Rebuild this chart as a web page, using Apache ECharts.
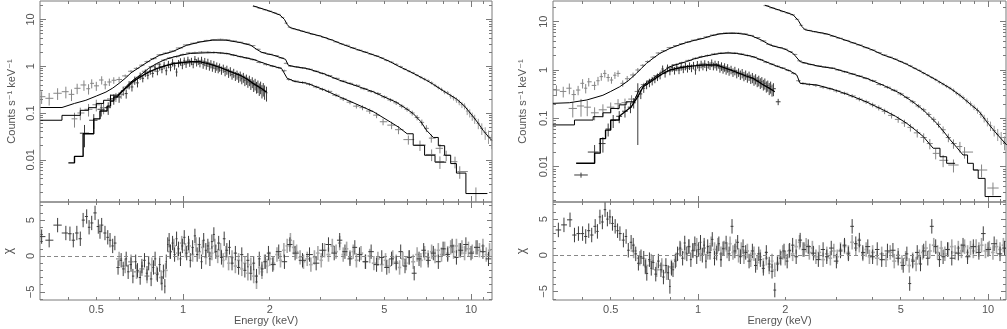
<!DOCTYPE html>
<html>
<head>
<meta charset="utf-8">
<script src="https://cdn.jsdelivr.net/npm/echarts@6/dist/echarts.min.js"></script>
<style>
  html, body { margin: 0; padding: 0; background: #fff; }
  #chart { width: 1007px; height: 329px; }
</style>
</head>
<body>
<div id="chart"></div>
<script>
// tick labels
const energyLabels = [0.5, 1, 2, 5, 10];
const energyMajor = [1, 10];
const energyMinor = [0.4, 0.5, 0.6, 0.7, 0.8, 0.9, 2, 3, 4, 5, 6, 7, 8, 9, 11];
const countLabels = [0.01, 0.1, 1, 10];
const chiLabels = [-5, 0, 5];
const chiMinor = [-6, -4, -3, -2, -1, 1, 2, 3, 4, 6, 7];

// ---- left panel: model outlines [E keV, counts/s/keV]
const leftModelTop = [[1.75,19.5],[1.85,17.5],[1.95,15.8],[2.05,14.2],[2.17,12.4],[2.25,10],[2.30,7.8],[2.35,6.7],[2.5,6.0],[2.7,5.2],[3.0,4.4],[3.3,3.6],[3.6,2.9],[4.0,2.3],[4.4,1.9],[4.8,1.58],[5.25,1.24],[5.6,1.0],[6.0,0.82],[6.5,0.64],[7.0,0.50],[7.4,0.41],[7.8,0.33],[8.3,0.26],[8.9,0.20],[9.5,0.14],[10.2,0.082],[10.6,0.06],[11.0,0.043],[11.5,0.031],[11.8,0.026]];
const leftModel2 = [[0.32,0.131],[0.38,0.131],[0.38,0.14],[0.42,0.16],[0.46,0.187],[0.50,0.23],[0.54,0.28],[0.57,0.34],[0.60,0.43],[0.63,0.55],[0.66,0.72],[0.71,0.97],[0.77,1.34],[0.83,1.72],[0.92,2.05],[1.03,2.8],[1.15,3.3],[1.27,3.6],[1.41,3.6],[1.58,3.2],[1.72,2.8],[1.8,2.3],[1.87,2.0],[1.95,1.85],[2.06,1.72],[2.2,1.5],[2.27,1.4],[2.32,1.05],[2.45,0.97],[2.7,0.89],[3.1,0.68],[3.5,0.50],[4.0,0.38],[4.6,0.28],[5.0,0.22],[5.5,0.17],[6.0,0.12],[6.3,0.097],[6.7,0.065],[7.0,0.043],[7.4,0.030],[7.7,0.03],[7.7,0.02],[8.1,0.02],[8.1,0.0125],[8.5,0.0125],[8.5,0.0083],[8.9,0.0083],[8.9,0.0052],[9.6,0.0052],[9.6,0.0019],[11.4,0.0019]];
const leftModel3 = [[0.32,0.07],[0.38,0.07],[0.38,0.089],[0.44,0.089],[0.44,0.114],[0.47,0.114],[0.47,0.13],[0.50,0.13],[0.50,0.16],[0.53,0.16],[0.53,0.187],[0.56,0.187],[0.56,0.24],[0.59,0.24],[0.61,0.27],[0.64,0.39],[0.67,0.5],[0.71,0.64],[0.76,0.9],[0.81,1.14],[0.87,1.4],[0.93,1.58],[1.0,1.75],[1.06,1.87],[1.2,1.93],[1.3,1.95],[1.42,1.87],[1.58,1.6],[1.75,1.4],[1.85,1.24],[2.0,1.05],[2.2,0.89],[2.3,0.55],[2.45,0.47],[2.7,0.43],[3.1,0.31],[3.5,0.22],[4.0,0.155],[4.6,0.105],[5.25,0.064],[5.6,0.05],[6.0,0.036],[6.3,0.036],[6.3,0.0204],[6.9,0.0204],[6.9,0.0125],[7.5,0.0125],[7.5,0.0089],[8.2,0.0089]];
const leftModel4 = [[0.40,0.0086],[0.42,0.0086],[0.42,0.0118],[0.45,0.0118],[0.45,0.036],[0.49,0.036],[0.49,0.075],[0.515,0.075],[0.515,0.11],[0.545,0.11],[0.545,0.14],[0.56,0.14],[0.56,0.18],[0.575,0.18],[0.575,0.22],[0.59,0.22],[0.61,0.28],[0.64,0.36],[0.67,0.47],[0.71,0.59],[0.76,0.75],[0.81,0.89],[0.87,1.02],[0.93,1.14],[1.0,1.2],[1.06,1.24],[1.15,1.24],[1.21,1.15],[1.27,1.05],[1.35,0.93],[1.42,0.82],[1.5,0.72],[1.58,0.64],[1.67,0.53],[1.75,0.43],[1.85,0.35],[1.95,0.28]];

// ---- left panel: data [E keV, counts, fractional error]
const leftDataTop = [[1.78,18.8,.03],[1.85,17.2,.03],[1.93,16,.03],[2.0,15,.03],[2.08,13.8,.03],[2.15,12.8,.03],[2.22,11,.03],[2.28,8.3,.03],[2.34,6.8,.03],[2.42,6.3,.03],[2.5,6.0,.03],[2.6,5.6,.03],[2.7,5.3,.03],[2.82,4.8,.03],[2.95,4.5,.03],[3.1,4.1,.03],[3.25,3.7,.03],[3.4,3.3,.03],[3.55,3.0,.03],[3.7,2.8,.04],[3.9,2.45,.04],[4.1,2.2,.04],[4.3,2.0,.04],[4.5,1.8,.04],[4.7,1.66,.04],[4.9,1.5,.04],[5.1,1.33,.05],[5.3,1.22,.05],[5.5,1.1,.05],[5.7,0.98,.05],[5.9,0.86,.05],[6.1,0.78,.06],[6.3,0.72,.06],[6.5,0.64,.06],[6.7,0.58,.07],[6.9,0.53,.07],[7.1,0.49,.07],[7.3,0.44,.08],[7.5,0.39,.08],[7.7,0.35,.09],[7.9,0.32,.09],[8.1,0.28,.1],[8.3,0.27,.1],[8.5,0.23,.12],[8.7,0.21,.12],[8.9,0.19,.13],[9.1,0.17,.14],[9.3,0.15,.15],[9.5,0.14,.15],[9.7,0.11,.18],[9.9,0.1,.2],[10.1,0.085,.2],[10.3,0.075,.22],[10.6,0.06,.25],[10.9,0.047,.28],[11.2,0.038,.3],[11.5,0.032,.32],[11.8,0.026,.35]];
const leftData2 = [[0.323,0.223,.3],[0.343,0.206,.3],[0.367,0.264,.28],[0.392,0.285,.28],[0.41,0.25,.28],[0.429,0.337,.25],[0.453,0.397,.25],[0.47,0.33,.25],[0.482,0.43,.22],[0.50,0.38,.22],[0.522,0.507,.2],[0.537,0.40,.2],[0.555,0.46,.18],[0.575,0.5,.16],[0.60,0.52,.14],[0.63,0.62,.07],[0.66,0.78,.06],[0.69,0.9,.06],[0.72,1.05,.05],[0.75,1.25,.05],[0.79,1.45,.05],[0.83,1.75,.04],[0.87,1.9,.04],[0.92,2.1,.04],[0.97,2.45,.04],[1.03,2.85,.03],[1.09,3.1,.03],[1.15,3.35,.03],[1.21,3.55,.03],[1.28,3.7,.03],[1.35,3.75,.03],[1.42,3.65,.03],[1.5,3.45,.03],[1.58,3.25,.03],[1.66,3.0,.03],[1.75,2.75,.03],[1.82,2.3,.03],[1.9,1.95,.03],[2.0,1.8,.03],[2.1,1.68,.03],[2.2,1.5,.03],[2.28,1.15,.04],[2.36,1.0,.04],[2.48,0.97,.04],[2.6,0.92,.04],[2.75,0.86,.04],[2.9,0.78,.05],[3.05,0.70,.05],[3.2,0.63,.05],[3.4,0.55,.05],[3.6,0.48,.06],[3.8,0.43,.06],[4.0,0.39,.06],[4.25,0.33,.07],[4.5,0.29,.07],[4.75,0.26,.08],[5.0,0.22,.08],[5.25,0.19,.09],[5.5,0.165,.1],[5.75,0.14,.1],[6.0,0.12,.11],[6.25,0.1,.12],[6.5,0.08,.13],[6.75,0.063,.15],[7.0,0.047,.17],[7.28,0.029,.2],[7.8,0.0176,.22],[8.2,0.0125,.25],[8.8,0.0091,.28],[9.14,0.0056,.3],[10.4,0.0019,.35]];
const leftData3 = [[0.42,0.075,.35],[0.44,0.1,.3],[0.47,0.12,.3],[0.5,0.15,.28],[0.53,0.13,.28],[0.56,0.2,.25],[0.585,0.22,.22],[0.61,0.25,.2],[0.64,0.36,.1],[0.67,0.46,.09],[0.70,0.58,.08],[0.74,0.78,.07],[0.78,0.98,.06],[0.82,1.1,.06],[0.86,1.35,.05],[0.9,1.5,.05],[0.95,1.6,.05],[1.0,1.78,.05],[1.05,1.92,.05],[1.1,1.95,.05],[1.16,2.0,.05],[1.22,2.0,.05],[1.28,1.97,.05],[1.35,1.92,.05],[1.42,1.85,.05],[1.5,1.72,.05],[1.58,1.6,.05],[1.66,1.5,.05],[1.75,1.38,.05],[1.85,1.2,.05],[1.95,1.08,.05],[2.05,1.0,.05],[2.15,0.93,.05],[2.25,0.8,.05],[2.33,0.52,.06],[2.45,0.48,.06],[2.6,0.45,.06],[2.75,0.41,.07],[2.9,0.36,.07],[3.05,0.32,.08],[3.2,0.29,.08],[3.4,0.24,.09],[3.6,0.2,.1],[3.8,0.17,.1],[4.0,0.14,.11],[4.2,0.13,.12],[4.45,0.11,.13],[4.7,0.09,.14],[4.95,0.065,.16],[5.3,0.055,.18],[5.6,0.044,.2],[6.06,0.027,.22],[6.65,0.0206,.25],[7.3,0.013,.28],[7.8,0.0091,.3]];
const leftData4 = [[0.455,0.037,.5],[0.49,0.07,.35],[0.52,0.12,.3],[0.55,0.13,.3],[0.575,0.2,.25],[0.60,0.22,.25],[0.62,0.3,.22],[0.635,0.26,.22],[0.65,0.4,.2],[0.665,0.36,.2],[0.68,0.5,.2],[0.695,0.44,.2],[0.71,0.62,.18],[0.725,0.55,.18],[0.74,0.72,.18],[0.755,0.64,.18],[0.77,0.8,.18],[0.785,0.7,.18],[0.80,0.92,.18],[0.815,0.78,.18],[0.83,0.98,.18],[0.845,0.86,.18],[0.86,1.05,.18],[0.875,0.8,.2],[0.89,1.1,.18],[0.905,0.95,.18],[0.92,1.2,.18],[0.935,1.02,.18],[0.95,0.75,.2],[0.965,1.15,.18],[0.98,1.25,.18],[0.995,1.05,.18],[1.01,1.3,.18],[1.025,1.12,.18],[1.04,1.35,.18],[1.055,1.18,.18],[1.07,1.28,.18],[1.085,1.1,.18],[1.10,1.4,.18],[1.115,1.2,.18],[1.13,1.3,.18],[1.145,1.15,.18],[1.16,1.35,.18],[1.175,1.1,.2],[1.19,1.25,.2],[1.205,1.05,.2],[1.22,1.2,.2],[1.235,1.0,.2],[1.25,1.12,.2],[1.265,0.95,.2],[1.28,1.08,.2],[1.295,0.9,.2],[1.31,1.0,.2],[1.325,0.88,.2],[1.34,0.95,.2],[1.36,0.82,.2],[1.38,0.9,.2],[1.40,0.78,.22],[1.42,0.84,.22],[1.44,0.72,.22],[1.46,0.78,.22],[1.48,0.66,.22],[1.50,0.72,.22],[1.52,0.62,.22],[1.54,0.66,.22],[1.56,0.58,.24],[1.58,0.62,.24],[1.60,0.54,.24],[1.62,0.58,.24],[1.64,0.5,.25],[1.66,0.53,.25],[1.68,0.46,.25],[1.70,0.5,.25],[1.72,0.42,.26],[1.74,0.46,.26],[1.76,0.39,.28],[1.78,0.42,.28],[1.80,0.36,.28],[1.82,0.38,.3],[1.84,0.33,.3],[1.86,0.36,.3],[1.88,0.3,.32],[1.90,0.33,.32],[1.92,0.29,.34],[1.95,0.27,.35]];

// ---- left panel: residuals [E keV, chi]
const leftResDark = [[0.323,2.7],[0.343,2.2],[0.367,4.3],[0.392,3.2],[0.405,3.1],[0.416,2.2],[0.428,3.2],[0.44,2.4],[0.45,5.0],[0.463,5.5],[0.472,4.0],[0.482,4.6],[0.495,6.0],[0.508,4.1],[0.515,3.4],[0.522,4.3],[0.536,3.2],[0.548,2.6],[0.558,2.2],[0.57,1.4],[0.58,1.8],[0.595,-1.6],[0.61,-0.6],[0.62,-1.8],[0.635,-0.4],[0.645,-2.2],[0.66,-1.2],[0.67,-2.8],[0.685,-0.8],[0.695,-2.0],[0.71,-3.0],[0.72,-1.4],[0.735,-0.6],[0.75,-2.4],[0.76,-1.0],[0.775,-3.2],[0.79,-1.6],[0.80,-0.4],[0.815,-2.6],[0.83,-1.2],[0.845,-3.8],[0.855,-2.2],[0.865,-4.2],[0.875,-0.8],[0.885,1.6],[0.895,2.2],[0.905,0.6],[0.92,1.8],[0.935,0.2],[0.95,2.4],[0.965,1.0],[0.98,-0.4],[0.995,1.4],[1.01,2.6],[1.03,0.4],[1.045,1.8],[1.06,-0.6],[1.08,1.2],[1.10,2.8],[1.12,0.2],[1.14,1.6],[1.16,-0.8],[1.18,2.2],[1.20,0.8],[1.22,1.4],[1.24,-0.4],[1.26,2.0],[1.28,3.0],[1.30,0.6],[1.33,1.8],[1.36,-0.2],[1.39,2.4],[1.42,0.8],[1.45,1.2],[1.48,-1.0],[1.52,0.4],[1.56,-1.6],[1.60,0.2],[1.64,-2.0],[1.68,-0.6],[1.72,-2.4],[1.76,-1.0],[1.80,-2.8],[1.84,-0.4],[1.88,-1.8],[1.93,-0.8],[1.98,0.4],[2.05,-1.2],[2.15,0.6],[2.25,-0.8],[2.35,1.6],[2.45,0.4],[2.6,-0.6],[2.75,0.2],[2.9,-1.0],[3.05,0.8],[3.2,1.6],[3.35,0.4],[3.5,2.2],[3.65,0.6],[3.8,-0.4],[3.95,1.2],[4.1,0.2],[4.3,-0.8],[4.5,0.6],[4.7,-1.2],[4.9,-0.2],[5.1,-1.6],[5.3,-0.4],[5.5,-1.0],[5.7,0.6],[5.9,-1.4],[6.1,-0.2],[6.35,-2.4],[6.6,-0.4],[6.85,0.8],[7.1,-0.6],[7.4,0.4],[7.7,-0.8],[8.0,1.0],[8.3,0.2],[8.6,1.4],[8.9,-0.2],[9.2,0.8],[9.6,1.6],[10.0,0.4],[10.5,1.2],[11.0,0.6],[11.5,-0.4]];
const leftResGray = [[0.60,-0.4],[0.63,-1.4],[0.66,-0.8],[0.69,-2.2],[0.72,-1.8],[0.75,-2.8],[0.78,-1.2],[0.81,-2.4],[0.84,-3.0],[0.87,-2.0],[0.90,0.6],[0.93,1.4],[0.96,0.4],[0.99,1.8],[1.02,0.8],[1.05,1.4],[1.08,0.2],[1.11,1.6],[1.14,0.6],[1.17,1.2],[1.20,-0.2],[1.23,1.0],[1.26,0.4],[1.29,1.4],[1.32,0.0],[1.35,0.8],[1.38,-0.6],[1.41,0.4],[1.44,-1.0],[1.48,-0.2],[1.52,-1.4],[1.56,-0.6],[1.60,-1.8],[1.64,-1.0],[1.68,-2.4],[1.72,-1.2],[1.76,-2.8],[1.80,-3.6],[1.84,-1.6],[1.88,-2.2],[1.92,-0.8],[1.96,-1.4],[2.0,-0.4],[2.06,-1.0],[2.12,0.2],[2.18,-0.6],[2.24,0.8],[2.30,1.4],[2.36,2.2],[2.42,1.2],[2.48,0.6],[2.55,-0.2],[2.62,-0.8],[2.7,-0.4],[2.78,-1.2],[2.86,-0.2],[2.94,0.4],[3.02,-0.6],[3.1,0.8],[3.2,0.2],[3.3,1.4],[3.4,0.6],[3.5,1.8],[3.6,0.2],[3.7,1.0],[3.8,-0.2],[3.9,0.6],[4.0,-0.6],[4.15,0.4],[4.3,-0.8],[4.45,0.0],[4.6,-1.0],[4.75,-0.4],[4.9,-1.2],[5.05,-0.6],[5.2,-1.4],[5.35,-0.2],[5.5,-0.8],[5.65,-1.6],[5.8,-0.4],[5.95,-1.0],[6.1,-0.2],[6.3,-0.8],[6.5,0.2],[6.7,-0.6],[6.9,0.4],[7.1,-0.2],[7.3,0.6],[7.5,0.0],[7.7,0.8],[7.9,0.2],[8.1,1.0],[8.3,0.4],[8.5,1.2],[8.7,0.6],[8.9,1.4],[9.1,0.8],[9.3,1.2],[9.5,0.4],[9.8,1.0],[10.1,0.6],[10.4,1.2],[10.7,0.8],[11.0,1.4],[11.3,0.2],[11.6,0.8]];

// ---- right panel: model outlines
const rightModelTop = [[1.70,22],[1.8,19.5],[1.9,17.5],[2.0,15.8],[2.13,13.8],[2.22,10.5],[2.28,8.0],[2.34,6.8],[2.5,6.3],[2.78,5.6],[3.1,4.5],[3.6,3.3],[4.0,2.6],[4.35,2.05],[4.7,1.75],[5.2,1.35],[5.7,1.02],[6.15,0.8],[6.7,0.6],[7.4,0.42],[8.0,0.3],[8.66,0.2],[9.3,0.14],[9.9,0.085],[10.5,0.055],[11.0,0.04],[11.6,0.028]];
const rightModel2 = [[0.316,0.204],[0.36,0.21],[0.414,0.24],[0.47,0.30],[0.50,0.36],[0.537,0.45],[0.575,0.6],[0.613,0.85],[0.64,1.1],[0.664,1.37],[0.70,1.75],[0.738,2.2],[0.8,2.8],[0.86,3.3],[0.911,3.7],[0.97,4.1],[1.04,4.5],[1.11,5.1],[1.19,5.6],[1.27,5.75],[1.36,5.75],[1.45,5.5],[1.53,5.1],[1.65,4.2],[1.77,3.3],[1.87,3.0],[1.97,2.8],[2.05,2.5],[2.13,2.2],[2.25,1.49],[2.37,1.37],[2.6,1.2],[2.93,1.08],[3.3,0.88],[3.82,0.67],[4.4,0.47],[4.97,0.33],[5.5,0.22],[5.98,0.149],[6.3,0.11],[6.65,0.079],[7.0,0.055],[7.4,0.036],[7.8,0.025],[8.2,0.0174],[8.5,0.0174],[8.5,0.0117],[8.9,0.0117],[8.9,0.0085],[9.25,0.0085],[9.25,0.0057],[9.77,0.0057],[9.77,0.0024],[11.1,0.0024]];
const rightModel3 = [[0.316,0.073],[0.375,0.073],[0.375,0.092],[0.435,0.092],[0.435,0.108],[0.47,0.108],[0.47,0.13],[0.50,0.13],[0.50,0.16],[0.535,0.16],[0.535,0.19],[0.565,0.19],[0.565,0.22],[0.6,0.22],[0.63,0.42],[0.665,0.55],[0.70,0.67],[0.75,0.9],[0.8,1.17],[0.86,1.35],[0.911,1.49],[0.97,1.7],[1.04,1.89],[1.11,2.05],[1.19,2.2],[1.27,2.25],[1.36,2.2],[1.45,2.05],[1.55,1.89],[1.66,1.6],[1.77,1.37],[1.87,1.2],[1.97,1.08],[2.08,0.95],[2.19,0.79],[2.25,0.53],[2.4,0.51],[2.57,0.49],[2.95,0.39],[3.34,0.30],[3.8,0.22],[4.35,0.149],[4.8,0.11],[5.24,0.079],[5.6,0.058],[5.98,0.042],[6.47,0.024],[6.83,0.024],[6.83,0.016],[7.2,0.016],[7.2,0.0117],[7.7,0.0117]];
const rightModel4 = [[0.38,0.0117],[0.44,0.0117],[0.44,0.019],[0.46,0.019],[0.46,0.038],[0.48,0.038],[0.48,0.057],[0.50,0.057],[0.50,0.092],[0.535,0.092],[0.535,0.11],[0.56,0.137],[0.589,0.174],[0.62,0.28],[0.647,0.45],[0.70,0.62],[0.75,0.82],[0.80,1.0],[0.86,1.1],[0.911,1.17],[0.97,1.22],[1.04,1.27],[1.16,1.27],[1.25,1.08],[1.32,0.96],[1.39,0.85],[1.47,0.75],[1.55,0.67],[1.62,0.57],[1.68,0.49],[1.76,0.42],[1.84,0.355]];

// ---- right panel: data
const rightDataTop = [[1.72,21.5,.03],[1.8,19.3,.03],[1.88,17.8,.03],[1.96,16.2,.03],[2.04,15.1,.03],[2.12,13.9,.03],[2.2,11.2,.03],[2.27,8.4,.03],[2.34,7.0,.03],[2.42,6.6,.03],[2.52,6.2,.03],[2.64,5.9,.03],[2.78,5.5,.03],[2.92,5.0,.03],[3.08,4.55,.03],[3.25,4.1,.03],[3.42,3.65,.03],[3.6,3.3,.04],[3.8,2.9,.04],[4.0,2.6,.04],[4.2,2.3,.04],[4.4,2.05,.04],[4.6,1.85,.04],[4.8,1.68,.04],[5.0,1.5,.05],[5.2,1.36,.05],[5.4,1.22,.05],[5.6,1.08,.05],[5.8,0.98,.05],[6.0,0.86,.06],[6.2,0.78,.06],[6.4,0.7,.06],[6.6,0.63,.07],[6.8,0.56,.07],[7.0,0.51,.07],[7.2,0.46,.08],[7.4,0.42,.08],[7.6,0.38,.09],[7.8,0.33,.09],[8.0,0.3,.1],[8.2,0.27,.1],[8.45,0.23,.12],[8.7,0.2,.12],[8.95,0.17,.13],[9.2,0.145,.14],[9.45,0.12,.15],[9.7,0.1,.18],[9.95,0.085,.2],[10.2,0.07,.22],[10.5,0.056,.25],[10.8,0.047,.28],[11.1,0.04,.3],[11.4,0.032,.32]];
const rightData2 = [[0.325,0.385,.25],[0.343,0.36,.25],[0.36,0.42,.25],[0.373,0.31,.25],[0.386,0.385,.22],[0.40,0.53,.22],[0.41,0.42,.22],[0.42,0.57,.2],[0.44,0.48,.2],[0.452,0.6,.2],[0.464,0.73,.18],[0.477,0.85,.18],[0.49,0.7,.18],[0.503,0.62,.16],[0.517,0.78,.16],[0.53,0.85,.15],[0.55,0.53,.15],[0.57,0.66,.14],[0.597,0.79,.12],[0.62,1.0,.1],[0.645,1.25,.06],[0.67,1.5,.05],[0.70,1.85,.05],[0.73,2.25,.04],[0.76,2.5,.04],[0.80,2.9,.04],[0.84,3.2,.03],[0.88,3.5,.03],[0.92,3.8,.03],[0.97,4.15,.03],[1.02,4.5,.03],[1.07,4.85,.03],[1.13,5.3,.03],[1.19,5.65,.03],[1.25,5.85,.03],[1.31,5.9,.03],[1.38,5.8,.03],[1.45,5.6,.03],[1.52,5.2,.03],[1.6,4.7,.03],[1.68,4.0,.03],[1.76,3.4,.03],[1.84,3.1,.03],[1.92,2.9,.03],[2.0,2.7,.03],[2.08,2.4,.03],[2.16,2.1,.03],[2.24,1.55,.04],[2.32,1.4,.04],[2.45,1.3,.04],[2.6,1.22,.04],[2.75,1.15,.04],[2.9,1.1,.04],[3.05,1.0,.04],[3.2,0.92,.05],[3.4,0.83,.05],[3.6,0.75,.05],[3.8,0.67,.05],[4.0,0.6,.06],[4.25,0.5,.06],[4.5,0.44,.07],[4.75,0.38,.07],[5.0,0.32,.08],[5.25,0.27,.08],[5.5,0.22,.09],[5.75,0.18,.1],[6.0,0.15,.1],[6.25,0.12,.12],[6.5,0.095,.13],[6.75,0.075,.15],[7.0,0.058,.17],[7.3,0.04,.2],[7.6,0.03,.22],[8.0,0.026,.25],[8.3,0.02,.27],[9.5,0.0085,.3],[10.4,0.0036,.3]];
const rightData3 = [[0.37,0.16,.35],[0.395,0.18,.4],[0.415,0.17,.35],[0.44,0.13,.3],[0.47,0.15,.3],[0.50,0.17,.25],[0.53,0.2,.25],[0.56,0.21,.22],[0.59,0.25,.2],[0.62,0.36,.1],[0.65,0.5,.09],[0.68,0.6,.08],[0.72,0.76,.07],[0.76,0.95,.06],[0.80,1.15,.06],[0.84,1.3,.05],[0.88,1.42,.05],[0.93,1.58,.05],[0.98,1.75,.05],[1.03,1.9,.05],[1.08,2.0,.05],[1.14,2.15,.05],[1.2,2.25,.05],[1.27,2.3,.05],[1.34,2.25,.05],[1.41,2.15,.05],[1.48,2.0,.05],[1.56,1.85,.05],[1.64,1.65,.05],[1.72,1.45,.05],[1.8,1.32,.05],[1.88,1.2,.05],[1.96,1.1,.05],[2.05,0.98,.05],[2.14,0.85,.05],[2.22,0.6,.06],[2.3,0.53,.06],[2.42,0.5,.06],[2.55,0.48,.07],[2.7,0.44,.07],[2.85,0.41,.07],[3.0,0.37,.08],[3.2,0.33,.08],[3.4,0.29,.09],[3.6,0.25,.1],[3.8,0.22,.1],[4.0,0.19,.11],[4.2,0.165,.12],[4.4,0.14,.13],[4.65,0.115,.14],[4.9,0.095,.15],[5.15,0.08,.17],[5.4,0.065,.18],[5.7,0.05,.2],[6.0,0.04,.22],[6.3,0.03,.24],[6.6,0.0188,.25],[7.0,0.0135,.28],[7.6,0.0108,.3]];
const rightData4 = [[0.395,0.0067,.12],[0.44,0.02,.4],[0.47,0.03,.35],[0.49,0.06,.3],[0.51,0.09,.3],[0.535,0.11,.28],[0.56,0.14,.26],[0.585,0.17,.25],[0.60,0.21,.24],[0.62,0.28,.9],[0.635,0.32,.22],[0.65,0.42,.2],[0.665,0.5,.2],[0.68,0.55,.2],[0.695,0.6,.2],[0.71,0.65,.18],[0.725,0.72,.18],[0.74,0.78,.18],[0.755,1.05,.18],[0.77,0.85,.18],[0.785,1.1,.18],[0.80,0.95,.18],[0.815,1.12,.18],[0.83,0.98,.18],[0.845,1.15,.18],[0.86,1.0,.18],[0.875,1.18,.18],[0.89,1.05,.18],[0.905,1.2,.18],[0.92,1.08,.18],[0.935,1.22,.18],[0.95,1.1,.18],[0.965,1.25,.18],[0.98,1.0,.2],[0.995,1.3,.18],[1.01,1.15,.18],[1.025,1.32,.18],[1.04,1.2,.18],[1.055,1.35,.18],[1.07,1.15,.18],[1.085,1.3,.18],[1.10,1.22,.18],[1.115,1.4,.18],[1.13,1.2,.18],[1.145,1.32,.18],[1.16,1.18,.18],[1.175,1.3,.18],[1.19,1.1,.2],[1.205,1.2,.2],[1.22,1.05,.2],[1.235,1.15,.2],[1.25,1.0,.2],[1.265,1.1,.2],[1.28,0.95,.2],[1.30,1.02,.2],[1.32,0.9,.2],[1.34,0.97,.2],[1.36,0.84,.2],[1.38,0.9,.2],[1.40,0.8,.22],[1.42,0.86,.22],[1.44,0.75,.22],[1.46,0.8,.22],[1.48,0.7,.22],[1.50,0.76,.22],[1.52,0.66,.22],[1.54,0.7,.24],[1.56,0.62,.24],[1.58,0.66,.24],[1.60,0.58,.24],[1.62,0.61,.25],[1.64,0.54,.25],[1.66,0.57,.25],[1.68,0.5,.25],[1.70,0.53,.26],[1.72,0.46,.26],[1.74,0.48,.26],[1.76,0.42,.28],[1.78,0.45,.28],[1.80,0.39,.28],[1.82,0.41,.3],[1.89,0.22,.15]];

// ---- right panel: residuals
const rightResDark = [[0.33,3.5],[0.345,4.2],[0.362,4.9],[0.375,2.8],[0.387,3.0],[0.40,3.0],[0.41,2.6],[0.42,3.4],[0.43,2.8],[0.442,4.0],[0.45,3.3],[0.459,5.3],[0.468,4.6],[0.478,6.3],[0.487,5.0],[0.497,5.3],[0.507,4.4],[0.518,4.0],[0.528,3.4],[0.538,3.0],[0.553,2.1],[0.565,2.6],[0.575,0.7],[0.588,1.8],[0.598,1.4],[0.61,0.2],[0.623,-1.1],[0.636,-0.2],[0.65,-0.4],[0.658,-1.6],[0.666,-2.5],[0.68,-0.6],[0.69,-1.8],[0.70,-1.0],[0.715,-2.6],[0.73,-0.8],[0.745,-2.0],[0.76,-3.0],[0.775,-1.4],[0.79,-2.4],[0.80,-4.3],[0.81,-1.8],[0.82,-2.0],[0.835,-0.8],[0.85,0.2],[0.867,1.0],[0.885,-0.4],[0.90,1.7],[0.915,0.2],[0.93,1.2],[0.945,-0.6],[0.96,0.7],[0.975,1.6],[0.99,-0.2],[1.005,0.8],[1.02,1.8],[1.035,0.0],[1.05,1.4],[1.065,-0.8],[1.08,1.2],[1.10,0.4],[1.12,2.2],[1.14,-0.4],[1.16,0.3],[1.18,1.6],[1.20,-0.6],[1.22,0.9],[1.25,1.7],[1.28,0.2],[1.31,4.0],[1.34,0.6],[1.37,1.8],[1.40,-0.2],[1.43,1.2],[1.46,0.4],[1.50,-0.8],[1.54,0.6],[1.58,-1.4],[1.62,0.2],[1.64,-0.6],[1.68,-1.8],[1.72,0.4],[1.76,-1.2],[1.80,-2.2],[1.84,-4.8],[1.88,-1.2],[1.93,-0.4],[1.98,0.6],[2.03,-0.8],[2.07,0.7],[2.12,1.4],[2.18,-0.2],[2.25,2.1],[2.32,0.8],[2.4,1.2],[2.5,0.3],[2.6,-0.6],[2.7,0.8],[2.78,-0.2],[2.88,1.0],[3.0,-0.8],[3.1,0.6],[3.2,1.4],[3.3,0.2],[3.4,4.0],[3.5,1.6],[3.6,2.1],[3.7,0.4],[3.85,1.2],[4.0,-0.2],[4.15,0.8],[4.3,-0.6],[4.5,0.6],[4.7,0.7],[4.9,-0.4],[5.1,-1.4],[5.25,0.2],[5.37,-3.9],[5.5,-0.8],[5.7,0.4],[5.85,-1.2],[6.0,0.6],[6.2,-0.4],[6.4,4.0],[6.6,1.2],[6.8,-0.6],[7.0,-0.2],[7.25,0.8],[7.5,-0.4],[7.9,0.3],[8.2,1.4],[8.5,-0.2],[8.9,1.2],[9.3,0.4],[9.63,3.0],[10.0,0.8],[10.5,1.6],[11.0,0.2],[11.4,1.0]];
const rightResGray = [[0.60,0.6],[0.63,-0.4],[0.66,-1.4],[0.69,-0.8],[0.72,-2.0],[0.75,-1.4],[0.78,-2.4],[0.81,-1.6],[0.84,-0.6],[0.87,0.8],[0.90,0.4],[0.93,1.2],[0.96,0.6],[0.99,1.4],[1.02,0.2],[1.05,1.0],[1.08,0.4],[1.11,1.6],[1.14,0.8],[1.17,1.4],[1.20,0.2],[1.23,1.0],[1.26,0.6],[1.29,1.6],[1.32,0.4],[1.35,1.2],[1.38,0.0],[1.41,0.8],[1.44,-0.2],[1.48,0.6],[1.52,-0.6],[1.56,0.2],[1.60,-1.0],[1.64,-0.2],[1.68,-1.4],[1.72,-0.4],[1.76,-1.6],[1.80,-0.8],[1.84,-2.0],[1.88,-1.0],[1.92,-0.2],[1.96,0.4],[2.0,-0.4],[2.06,0.6],[2.12,0.2],[2.18,1.2],[2.24,1.8],[2.30,0.8],[2.36,1.4],[2.42,0.4],[2.48,1.0],[2.55,-0.2],[2.62,0.4],[2.7,-0.6],[2.78,0.2],[2.86,-0.4],[2.94,0.6],[3.02,-0.2],[3.1,0.8],[3.2,1.2],[3.3,0.4],[3.4,1.8],[3.5,1.0],[3.6,1.4],[3.7,0.2],[3.8,0.8],[3.9,-0.2],[4.0,0.4],[4.15,-0.4],[4.3,0.2],[4.45,-0.6],[4.6,0.4],[4.75,-0.8],[4.9,0.0],[5.05,-1.0],[5.2,-0.4],[5.35,-1.4],[5.5,-0.6],[5.65,-1.2],[5.8,-0.2],[5.95,0.4],[6.1,1.0],[6.3,0.6],[6.5,1.4],[6.7,0.4],[6.9,1.0],[7.1,0.2],[7.3,0.8],[7.5,1.2],[7.7,0.4],[7.9,1.0],[8.1,0.6],[8.3,1.2],[8.5,0.4],[8.7,1.0],[8.9,0.6],[9.1,1.2],[9.3,0.8],[9.5,1.4],[9.8,0.6],[10.1,1.0],[10.4,0.4],[10.7,1.2],[11.0,0.8],[11.3,1.4]];

const lg = Math.log10;
const frameColor = '#7a7a7a';
const textColor = '#555';
const font = 'Liberation Sans, DejaVu Sans, sans-serif';

const countMinor = [];
for (let d = -3; d <= 1; d++) {
    for (let k = 2; k <= 9; k++) countMinor.push(k * Math.pow(10, d));
}

// panel geometry and axis ranges (log10 space for energy and counts)
const panels = [
    { left: 40, width: 452, xr: [-0.4965, 1.0729], yr: [-2.902, 1.393], cr: [-6.13, 7.52], nameGap: 23,
      models: [leftModelTop, leftModel2, leftModel3, leftModel4],
      data: [leftDataTop, leftData2, leftData3, leftData4],
      resDark: leftResDark, resGray: leftResGray },
    { left: 553, width: 453, xr: [-0.5, 1.062], yr: [-2.733, 1.429], cr: [-6.17, 7.36], nameGap: 25,
      models: [rightModelTop, rightModel2, rightModel3, rightModel4],
      data: [rightDataTop, rightData2, rightData3, rightData4],
      resDark: rightResDark, resGray: rightResGray }
];

const grids = [], xAxes = [], yAxes = [], series = [];
const labelStyle = { color: textColor, fontSize: 11, fontFamily: font };

// one set of axes per side: major and minor ticks on separate axes so their lengths differ
function addAxes(list, dim, grid, range, majors, minors, majLen, minLen, primaryOpts) {
    const first = list.length;
    const sides = dim === 'x' ? ['bottom', 'top'] : ['left', 'right'];
    sides.forEach((side, si) => {
        [[majors, majLen], [minors, minLen]].forEach(([vals, len], ti) => {
            const ax = {
                type: 'value', gridIndex: grid, position: side,
                min: range[0], max: range[1],
                axisLine: { show: false, onZero: false },
                splitLine: { show: false },
                axisTick: { show: true, inside: true, length: len, customValues: vals,
                            lineStyle: { color: frameColor, width: 1 } },
                axisLabel: { show: false }
            };
            if (si === 0 && ti === 0 && primaryOpts) Object.assign(ax, primaryOpts);
            list.push(ax);
        });
    });
    return first;
}

// half widths of bins from neighbouring energies (log space)
function halfWidths(lx) {
    return lx.map((v, i) => {
        const l = i > 0 ? (v - lx[i - 1]) / 2 : (lx[i + 1] - v) / 2;
        const r = i < lx.length - 1 ? (lx[i + 1] - v) / 2 : (v - lx[i - 1]) / 2;
        return [Math.min(l, 0.03), Math.min(r, 0.03)];
    });
}

function specRows(arr) {
    const lx = arr.map(d => lg(d[0]));
    const hw = halfWidths(lx);
    return arr.map((d, i) => {
        const f = Math.min(d[2], 0.95);
        return [lx[i], lg(d[1]), lx[i] - hw[i][0], lx[i] + hw[i][1], lg(d[1] * (1 - f)), lg(d[1] * (1 + d[2]))];
    });
}

function resRows(arr) {
    const lx = arr.map(d => lg(d[0]));
    const hw = halfWidths(lx);
    return arr.map((d, i) => [lx[i], d[1], lx[i] - hw[i][0], lx[i] + hw[i][1], d[1] - 1, d[1] + 1]);
}

function crossSeries(rows, xi, yi, color, lw, z) {
    return {
        type: 'custom', xAxisIndex: xi, yAxisIndex: yi, z: z, clip: true, silent: true,
        data: rows,
        encode: { x: 0, y: 1 },
        renderItem: function (params, api) {
            const a = api.coord([api.value(2), api.value(1)]);
            const b = api.coord([api.value(3), api.value(1)]);
            const lo = api.coord([api.value(0), api.value(4)]);
            const hi = api.coord([api.value(0), api.value(5)]);
            const style = { stroke: color, lineWidth: lw };
            return {
                type: 'group',
                children: [
                    { type: 'line', shape: { x1: a[0], y1: a[1], x2: b[0], y2: b[1] }, style: style },
                    { type: 'line', shape: { x1: lo[0], y1: lo[1], x2: hi[0], y2: hi[1] }, style: style }
                ]
            };
        }
    };
}

const dataColors = ['#9a9a9a', '#858585', '#858585', '#3a3a3a'];

panels.forEach((p) => {
    const gUp = grids.length;
    grids.push({ left: p.left, top: 1, width: p.width, height: 201, show: true,
                 borderColor: frameColor, borderWidth: 1, backgroundColor: 'transparent' });
    const gLo = grids.length;
    grids.push({ left: p.left, top: 202, width: p.width, height: 98, show: true,
                 borderColor: frameColor, borderWidth: 1, backgroundColor: 'transparent' });

    const eMaj = energyMajor.map(lg), eMin = energyMinor.map(lg);
    const xUp = addAxes(xAxes, 'x', gUp, p.xr, eMaj, eMin, 6, 3);
    const xLo = addAxes(xAxes, 'x', gLo, p.xr, eMaj, eMin, 6, 3, {
        axisLabel: { show: true, customValues: energyLabels.map(lg), margin: 4,
                     formatter: v => String(+Math.pow(10, v).toPrecision(2)), ...labelStyle },
        name: 'Energy (keV)', nameLocation: 'middle', nameGap: 14,
        nameTextStyle: { ...labelStyle }
    });
    const yUp = addAxes(yAxes, 'y', gUp, p.yr, countLabels.map(lg), countMinor.map(lg), 6, 3, {
        axisLabel: { show: true, customValues: countLabels.map(lg), rotate: 90, margin: 4,
                     formatter: v => String(+Math.pow(10, v).toPrecision(2)), ...labelStyle },
        name: 'Counts s\u207B\u00B9 keV\u207B\u00B9', nameLocation: 'middle', nameRotate: 90,
        nameGap: p.nameGap, nameTextStyle: { ...labelStyle }
    });
    const yLo = addAxes(yAxes, 'y', gLo, p.cr, chiLabels, chiMinor, 5, 3, {
        axisLabel: { show: true, customValues: chiLabels, rotate: 90, margin: 4,
                     formatter: v => (v < 0 ? '\u2212' + (-v) : String(v)), ...labelStyle },
        name: '\u03C7', nameLocation: 'middle', nameRotate: 90, nameGap: 25,
        nameTextStyle: { ...labelStyle, fontSize: 12 }
    });

    // data crosses
    p.data.forEach((d, i) => {
        series.push(crossSeries(specRows(d), xUp, yUp, dataColors[i], 1, i === 3 ? 3 : 2));
    });
    // model outlines
    p.models.forEach((m, i) => {
        series.push({
            type: 'line', xAxisIndex: xUp, yAxisIndex: yUp, symbol: 'none', z: 5,
            silent: true, clip: true,
            data: m.map(d => [lg(d[0]), lg(d[1])]),
            lineStyle: { color: '#000', width: i === 3 ? 1.4 : 1 }
        });
    });
    // zero line under the residuals
    series.push({
        type: 'line', xAxisIndex: xLo, yAxisIndex: yLo, data: [], z: 1, silent: true,
        markLine: { symbol: 'none', silent: true, label: { show: false }, animation: false,
                    lineStyle: { type: [4, 3], color: '#888', width: 1 }, data: [{ yAxis: 0 }] }
    });
    series.push(crossSeries(resRows(p.resGray), xLo, yLo, '#a8a8a8', 1.6, 2));
    series.push(crossSeries(resRows(p.resDark), xLo, yLo, '#3c3c3c', 1, 3));
});

const chart = echarts.init(document.getElementById('chart'), null, { renderer: 'canvas' });
chart.setOption({
    animation: false,
    backgroundColor: '#fff',
    grid: grids,
    xAxis: xAxes,
    yAxis: yAxes,
    series: series
});
</script>
</body>
</html>
